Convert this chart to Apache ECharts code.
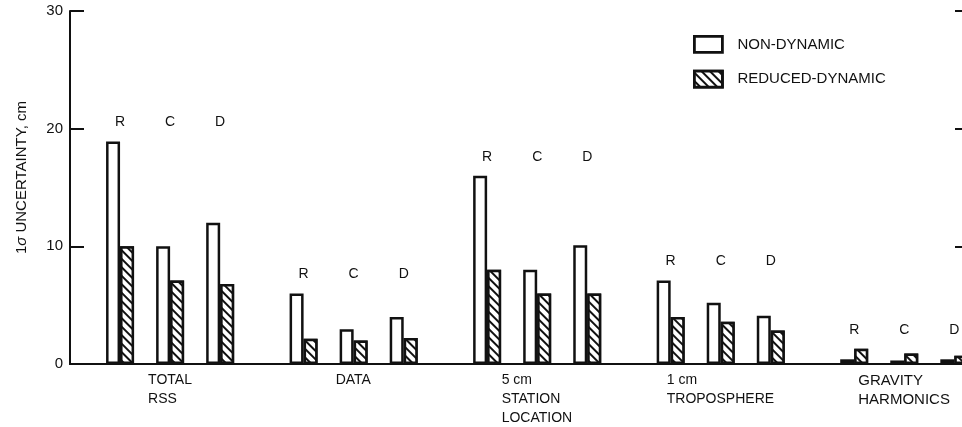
<!DOCTYPE html>
<html>
<head>
<meta charset="utf-8">
<script src="https://cdn.jsdelivr.net/npm/echarts@6/dist/echarts.min.js"></script>
<style>
  html, body { margin: 0; padding: 0; background: #fff; }
  #chart { width: 962px; height: 427px; }
</style>
</head>
<body>
<div id="chart"></div>
<script>
// Error sources; each one is shown for three cases R, C and D
const groups = ['TOTAL\nRSS', 'DATA', '5 cm\nSTATION\nLOCATION', '1 cm\nTROPOSPHERE', 'GRAVITY\nHARMONICS'];
const cases = ['R', 'C', 'D'];
const seriesNames = ['NON-DYNAMIC', 'REDUCED-DYNAMIC'];

// 1-sigma uncertainty in cm, one row per error source, columns R, C, D
const nonDynamic = [
  [18.9, 10.0, 12.0],
  [6.0, 2.95, 4.0],
  [16.0, 8.0, 10.1],
  [7.1, 5.2, 4.1],
  [0.4, 0.3, 0.4]
];
const reducedDynamic = [
  [10.0, 7.1, 6.8],
  [2.15, 2.0, 2.2],
  [8.0, 6.0, 6.0],
  [4.0, 3.6, 2.85],
  [1.3, 0.9, 0.7]
];

const yTicks = [0, 10, 20, 30];

// ---- layout of the category axis: narrow slots, cases 3 slots apart, sources 11 apart
const LEAD = 3, CASE_STEP = 3, GROUP_STEP = 11;
const slotCount = LEAD + (groups.length - 1) * GROUP_STEP + (cases.length - 1) * CASE_STEP + 2;
const slotKeys = [];
for (let i = 0; i < slotCount; i++) slotKeys.push('s' + i);
const slotOf = (g, c) => LEAD + g * GROUP_STEP + c * CASE_STEP;

const ndData = new Array(slotCount).fill('-');
const rdData = new Array(slotCount).fill('-');
const caseLabelData = [];
const caseLabelText = [];
const axisLabelAt = {};
groups.forEach((name, g) => {
  const top = Math.max(...nonDynamic[g], ...reducedDynamic[g]);
  cases.forEach((c, ci) => {
    const s = slotOf(g, ci);
    ndData[s] = nonDynamic[g][ci];
    rdData[s] = reducedDynamic[g][ci];
    caseLabelData.push([s, top]);
    caseLabelText.push(c);
  });
  axisLabelAt[slotOf(g, 1)] = g;
});

const FONT = '"Liberation Sans", Arial, Helvetica, sans-serif';
const INK = '#111';

// Multi-line source names: left-aligned lines, block centred under the middle case
const measureCtx = document.createElement('canvas').getContext('2d');
const labelRich = {};
groups.forEach((name, g) => {
  const size = g === groups.length - 1 ? 15 : 14;
  measureCtx.font = size + 'px ' + FONT;
  const w = Math.max(...name.split('\n').map(t => measureCtx.measureText(t).width));
  labelRich['g' + g] = { width: Math.ceil(w), align: 'left', fontSize: size, lineHeight: 19, color: INK, fontFamily: FONT };
});

const chart = echarts.init(document.getElementById('chart'), null, { renderer: 'canvas' });

const frameAxisLine = { show: true, lineStyle: { color: INK, width: 2 } };
const BAR_BORDER = 2.5;

chart.setOption({
  animation: false,
  backgroundColor: '#fff',
  textStyle: { fontFamily: FONT, color: INK },
  grid: { left: 70, right: -9, top: 11, bottom: 63, containLabel: false, outerBoundsMode: 'none' },
  legend: {
    orient: 'vertical',
    left: 693,
    top: 35,
    padding: 0,
    itemWidth: 28,
    itemHeight: 16,
    itemGap: 16,
    icon: 'rect',
    selectedMode: false,
    data: seriesNames,
    itemStyle: { borderWidth: 2.8, borderColor: INK },
    textStyle: { fontSize: 15, color: INK, padding: [0, 0, 0, 10], fontFamily: FONT }
  },
  xAxis: [
    {
      type: 'category',
      data: slotKeys,
      boundaryGap: false,
      axisLine: frameAxisLine,
      axisTick: { show: false },
      splitLine: { show: false },
      axisLabel: {
        interval: 0,
        margin: 7,
        showMinLabel: true,
        showMaxLabel: true,
        formatter: (v, i) => {
          if (axisLabelAt[i] === undefined) return '';
          const g = axisLabelAt[i];
          return groups[g].split('\n').map(t => '{g' + g + '|' + t + '}').join('\n');
        },
        rich: labelRich
      }
    },
    {
      type: 'category',
      position: 'top',
      data: slotKeys,
      boundaryGap: false,
      axisLine: frameAxisLine,
      axisTick: { show: false },
      axisLabel: { show: false },
      splitLine: { show: false }
    }
  ],
  yAxis: [
    {
      type: 'value',
      position: 'left',
      min: yTicks[0],
      max: yTicks[yTicks.length - 1],
      interval: yTicks[1] - yTicks[0],
      axisLine: frameAxisLine,
      axisTick: { show: true, inside: true, length: 14, lineStyle: { color: INK, width: 2 } },
      splitLine: { show: false },
      axisLabel: { fontSize: 15, color: INK, margin: 7, fontFamily: FONT },
      name: '1{s|σ} UNCERTAINTY, cm',
      nameLocation: 'middle',
      nameRotate: 90,
      nameGap: 41,
      nameTextStyle: {
        fontSize: 15, color: INK, fontFamily: FONT,
        padding: [0, 0, 0, 20],
        rich: { s: { fontStyle: 'italic', fontSize: 15, color: INK, fontFamily: FONT } }
      }
    },
    {
      type: 'value',
      position: 'right',
      min: yTicks[0],
      max: yTicks[yTicks.length - 1],
      interval: yTicks[1] - yTicks[0],
      axisLine: frameAxisLine,
      axisTick: { show: true, inside: true, length: 16, lineStyle: { color: INK, width: 2 } },
      axisLabel: { show: false },
      splitLine: { show: false }
    }
  ],
  series: [
    {
      name: seriesNames[0],
      type: 'bar',
      data: ndData,
      barWidth: 14,
      barGap: '0%',
      itemStyle: { color: '#fff', borderColor: INK, borderWidth: BAR_BORDER }
    },
    {
      name: seriesNames[1],
      type: 'bar',
      data: rdData,
      barWidth: 14,
      barGap: '0%',
      itemStyle: {
        color: '#fff',
        borderColor: INK,
        borderWidth: BAR_BORDER,
        decal: {
          symbol: 'rect',
          symbolSize: 1,
          dashArrayX: [1, 0],
          dashArrayY: [2, 4],
          rotation: Math.PI / 4,
          color: INK,
          backgroundColor: '#fff'
        }
      }
    },
    {
      // R / C / D captions above each source's tallest bar
      type: 'custom',
      data: caseLabelData,
      silent: true,
      z: 5,
      renderItem: (params, api) => {
        const p = api.coord([api.value(0), api.value(1)]);
        return {
          type: 'text',
          x: p[0],
          y: p[1] - 19,
          style: {
            text: caseLabelText[params.dataIndex],
            align: 'center',
            verticalAlign: 'middle',
            fontSize: 14,
            fontFamily: FONT,
            fill: INK
          }
        };
      }
    }
  ]
});
</script>
</body>
</html>
